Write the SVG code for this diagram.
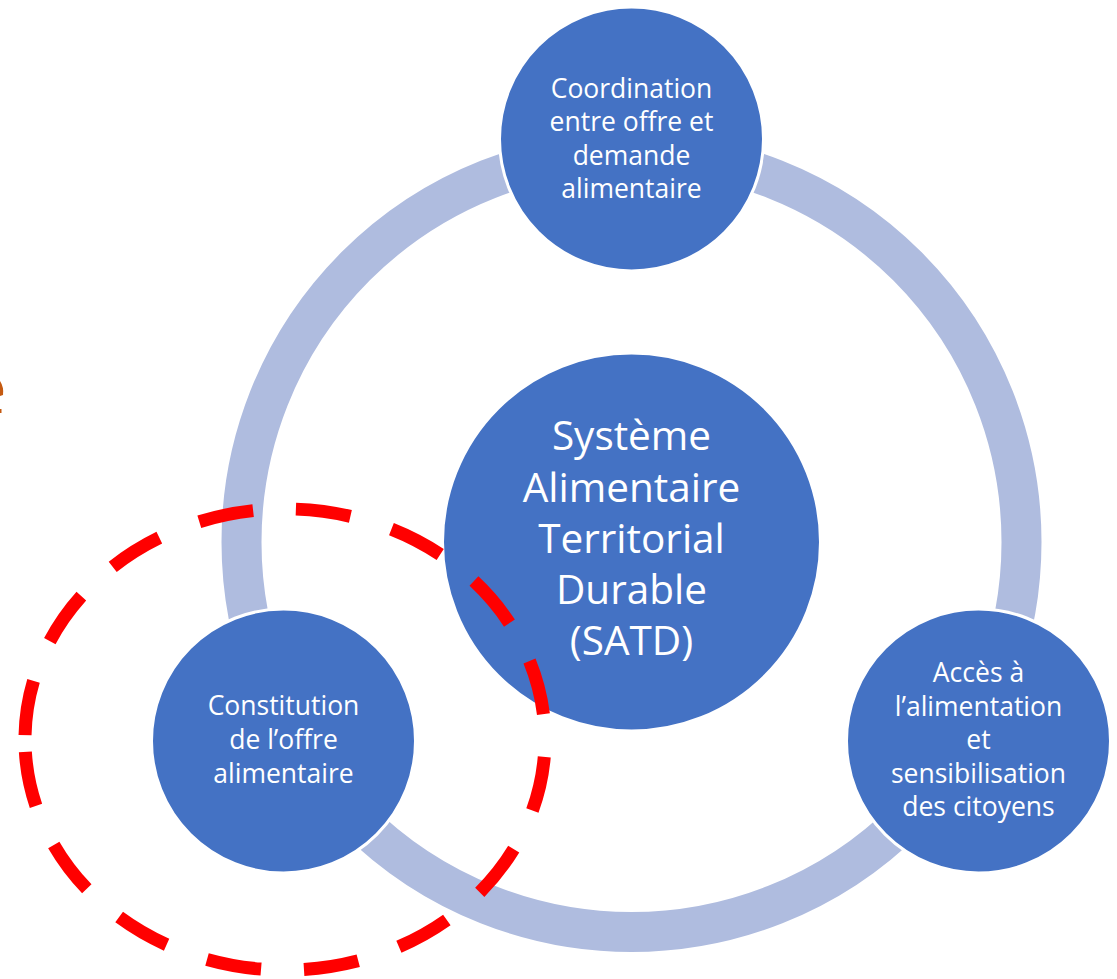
<svg xmlns="http://www.w3.org/2000/svg" width="1117" height="979" viewBox="0 0 1117 979">
<style>
.node{fill:#4472C4;stroke:#FFFFFF;stroke-width:3}
.lbl{fill:#FFFFFF;font-family:"Open Sans","Liberation Sans",sans-serif;font-size:26.5px;text-anchor:middle}
.big{font-size:40.5px}
</style>
<rect width="1117" height="979" fill="#FFFFFF"/>
<g id="connectors">
<circle cx="631.5" cy="542" r="390" fill="none" stroke="#AFBCDF" stroke-width="40"/>
</g>
<g id="node-top">
<circle class="node" cx="631.5" cy="139" r="132"/>
<text class="lbl"><tspan x="631.5" y="98">Coordination</tspan><tspan x="631.5" y="131">entre offre et</tspan><tspan x="631.5" y="165">demande</tspan><tspan x="631.5" y="198">alimentaire</tspan></text>
</g>
<g id="node-center">
<circle class="node" cx="631.5" cy="542" r="189"/>
<text class="lbl big"><tspan x="631.5" y="450">Système</tspan><tspan x="631.5" y="502">Alimentaire</tspan><tspan x="631.5" y="553">Territorial</tspan><tspan x="631.5" y="604">Durable</tspan><tspan x="631.5" y="655">(SATD)</tspan></text>
</g>
<g id="node-left">
<circle class="node" cx="283.5" cy="741" r="132"/>
<text class="lbl"><tspan x="283.5" y="715">Constitution</tspan><tspan x="283.5" y="749">de l’offre</tspan><tspan x="283.5" y="783">alimentaire</tspan></text>
</g>
<g id="node-right">
<circle class="node" cx="978.5" cy="741" r="132"/>
<text class="lbl"><tspan x="978.5" y="682">Accès à</tspan><tspan x="978.5" y="716">l’alimentation</tspan><tspan x="978.5" y="749">et</tspan><tspan x="978.5" y="783">sensibilisation</tspan><tspan x="978.5" y="816">des citoyens</tspan></text>
</g>
<g id="highlight">
<path d="M25,739.5 A260,230.5 0 1,1 545,739.5 A260,230.5 0 1,1 25,739.5" fill="none" stroke="#FF0000" stroke-width="13" stroke-dasharray="55 43" stroke-dashoffset="-4.5"/>
</g>
<g id="fragment">
<path d="M0,381 Q4,387 3,395 L0,396 Z" fill="#C55A11"/>
<rect x="0" y="409" width="1.5" height="4" fill="#C55A11"/>
</g>
</svg>
